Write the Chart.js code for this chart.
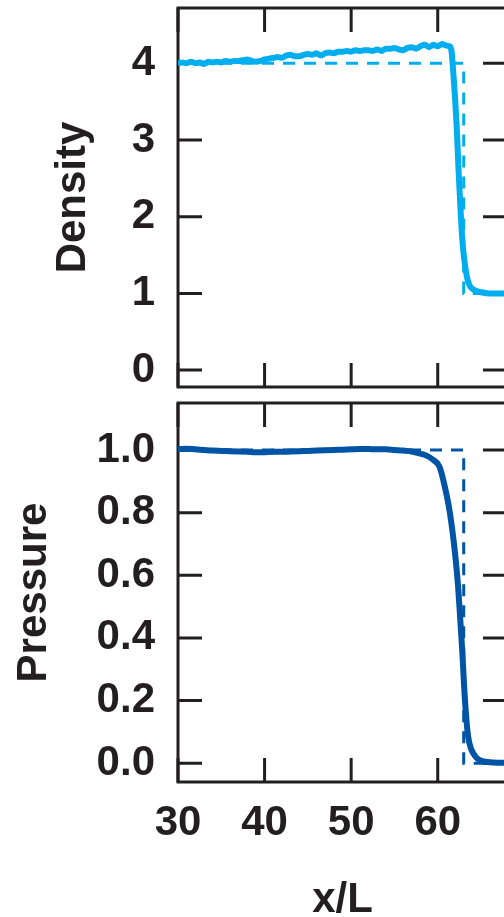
<!DOCTYPE html>
<html lang="en">
<head>
<meta charset="UTF-8">
<title>Density and Pressure</title>
<script src="https://cdn.jsdelivr.net/npm/chart.js"></script>
<style>
    html, body { margin: 0; padding: 0; background: #fff; overflow: hidden; width: 504px; height: 917px; }
    canvas { position: absolute; left: 0; }
    #densityChart { top: 0; }
    #pressureChart { top: 395px; }
</style>
</head>
<body>
<canvas id="densityChart" width="560" height="400"></canvas>
<canvas id="pressureChart" width="560" height="560"></canvas>
<script>
// tick labels
const xTicks = [30, 40, 50, 60];
const densityTicks = [0, 1, 2, 3, 4];
const pressureTicks = [0, 0.2, 0.4, 0.6, 0.8, 1.0];

// density, simulation (solid)
const densityX = [30, 30.5, 31, 31.5, 32, 32.5, 33, 33.5, 34, 34.5, 35, 35.5, 36, 36.5, 37, 37.5, 38, 38.5, 39, 39.5,
    40, 40.5, 41, 41.5, 42, 42.5, 43, 43.5, 44, 44.5, 45, 45.5, 46, 46.5, 47, 47.5, 48, 48.5, 49, 49.5,
    50, 50.5, 51, 51.5, 52, 52.5, 53, 53.5, 54, 54.5, 55, 55.5, 56, 56.5, 57, 57.5, 58, 58.5, 59, 59.5,
    60, 60.5, 61, 61.4, 61.6, 61.75, 62, 62.2, 62.4, 62.6, 62.8, 63, 63.2, 63.4, 63.7, 64, 64.5, 65, 66, 67, 68];
const densityY = [4.00, 4.01, 4.00, 4.02, 4.00, 4.01, 3.99, 4.02, 4.01, 4.02, 4.01, 4.03, 4.02, 4.03, 4.03, 4.04, 4.05, 4.03, 4.02, 4.03,
    4.05, 4.06, 4.07, 4.08, 4.07, 4.10, 4.11, 4.09, 4.09, 4.11, 4.12, 4.11, 4.13, 4.10, 4.13, 4.14, 4.13, 4.15, 4.15, 4.16,
    4.15, 4.17, 4.16, 4.17, 4.17, 4.16, 4.18, 4.16, 4.19, 4.19, 4.20, 4.18, 4.17, 4.20, 4.21, 4.19, 4.22, 4.24, 4.21, 4.24,
    4.22, 4.25, 4.23, 4.22, 4.15, 3.95, 3.55, 3.15, 2.62, 2.17, 1.76, 1.50, 1.33, 1.20, 1.10, 1.06, 1.03, 1.015, 1.00, 1.00, 1.00];

// density, exact solution (dashed)
const densityExactX = [30, 63, 63, 68];
const densityExactY = [4, 4, 1, 1];

// pressure, simulation (solid)
const pressureX = [30, 31, 32, 33, 34, 35, 36, 37, 38, 39, 40, 41, 42, 43, 44, 45, 46, 47, 48, 49,
    50, 51, 52, 53, 54, 55, 56, 57, 57.9, 58.7, 59.5, 60.2, 60.8, 61.4, 62, 62.35, 62.6, 62.85, 63.05, 63.25,
    63.5, 63.8, 64.1, 64.6, 65.3, 66.5, 68];
const pressureY = [1.003, 1.004, 1.002, 1.000, 0.998, 0.997, 0.996, 0.995, 0.994, 0.993, 0.993, 0.994, 0.994, 0.995, 0.996, 0.997, 0.998, 0.999, 1.000, 1.001,
    1.002, 1.003, 1.003, 1.002, 1.002, 1.000, 0.998, 0.995, 0.989, 0.982, 0.968, 0.947, 0.885, 0.800, 0.670, 0.565, 0.460, 0.350, 0.245, 0.160,
    0.087, 0.050, 0.032, 0.014, 0.006, 0.002, 0.001];

// pressure, exact solution (dashed)
const pressureExactX = [30, 63, 63, 68];
const pressureExactY = [1, 1, 0, 0];

const ink = '#231f20';
const font = { family: '"Liberation Sans", Arial, Helvetica, sans-serif', size: 42, weight: 'bold' };
const toPoints = (xs, ys) => xs.map((x, i) => ({ x: x, y: ys[i] }));

// box around the plot with inward ticks on all four sides
const frameTicks = {
    id: 'frameTicks',
    beforeDatasetsDraw(chart) {
        const { ctx, chartArea: a, scales } = chart;
        const len = 24;
        ctx.save();
        ctx.strokeStyle = ink;
        ctx.lineWidth = 3;
        ctx.strokeRect(a.left, a.top, a.right - a.left, a.bottom - a.top);
        ctx.beginPath();
        scales.x.ticks.forEach(t => {
            const px = scales.x.getPixelForValue(t.value);
            ctx.moveTo(px, a.top); ctx.lineTo(px, a.top + len);
            ctx.moveTo(px, a.bottom); ctx.lineTo(px, a.bottom - len);
        });
        scales.y.ticks.forEach(t => {
            const py = scales.y.getPixelForValue(t.value);
            ctx.moveTo(a.left, py); ctx.lineTo(a.left + len, py);
            ctx.moveTo(a.right, py); ctx.lineTo(a.right - len, py);
        });
        ctx.stroke();
        ctx.restore();
    }
};

// stop the scales from reserving room for half a tick label
function noPadding(s) {
    s.paddingTop = 0;
    s.paddingBottom = 0;
    s.paddingLeft = 0;
    s.paddingRight = 0;
}

function makePanel(canvasId, opts) {
    return new Chart(document.getElementById(canvasId), {
        type: 'line',
        data: {
            datasets: [{
                data: toPoints(opts.xs, opts.ys),
                borderColor: opts.color,
                borderWidth: 6,
                pointRadius: 0,
                cubicInterpolationMode: 'monotone',
                fill: false
            }, {
                data: toPoints(opts.exactX, opts.exactY),
                borderColor: opts.color,
                borderWidth: 3,
                borderDash: [12, 9],
                pointRadius: 0,
                tension: 0,
                fill: false
            }]
        },
        options: {
            responsive: false,
            animation: false,
            devicePixelRatio: 1,
            layout: { padding: { top: 8, right: 53, left: 0, bottom: 0 } },
            plugins: { legend: { display: false }, tooltip: { enabled: false } },
            scales: {
                x: {
                    type: 'linear',
                    min: 30,
                    max: 68,
                    afterBuildTicks: s => { s.ticks = xTicks.map(v => ({ value: v })); },
                    afterFit: s => { s.height = opts.xHeight; noPadding(s); },
                    grid: { display: false, drawTicks: false },
                    border: { display: false },
                    ticks: { display: opts.showX, font: font, color: ink, padding: 16, autoSkip: false, maxRotation: 0 },
                    title: { display: opts.showX, text: 'x/L', font: font, color: ink, padding: { top: 0, bottom: 29 } }
                },
                y: {
                    type: 'linear',
                    min: opts.yMin,
                    max: opts.yMax,
                    afterBuildTicks: s => { s.ticks = opts.yTicks.map(v => ({ value: v })); },
                    afterFit: s => { s.width = 178; noPadding(s); },
                    grid: { display: false, drawTicks: false },
                    border: { display: false },
                    ticks: { font: font, color: ink, padding: 23, autoSkip: false, callback: opts.fmt },
                    title: { display: true, text: opts.title, font: font, color: ink, padding: { top: opts.titlePad, bottom: 0 } }
                }
            }
        },
        plugins: [frameTicks]
    });
}

makePanel('densityChart', {
    xs: densityX, ys: densityY, exactX: densityExactX, exactY: densityExactY,
    color: '#00aeef', yMin: -0.22, yMax: 4.72, yTicks: densityTicks,
    fmt: v => String(v), title: 'Density', titlePad: 48, showX: false, xHeight: 13
});

makePanel('pressureChart', {
    xs: pressureX, ys: pressureY, exactX: pressureExactX, exactY: pressureExactY,
    color: '#0054a6', yMin: -0.06, yMax: 1.15, yTicks: pressureTicks,
    fmt: v => v.toFixed(1), title: 'Pressure', titlePad: 9, showX: true, xHeight: 173
});
</script>
</body>
</html>
